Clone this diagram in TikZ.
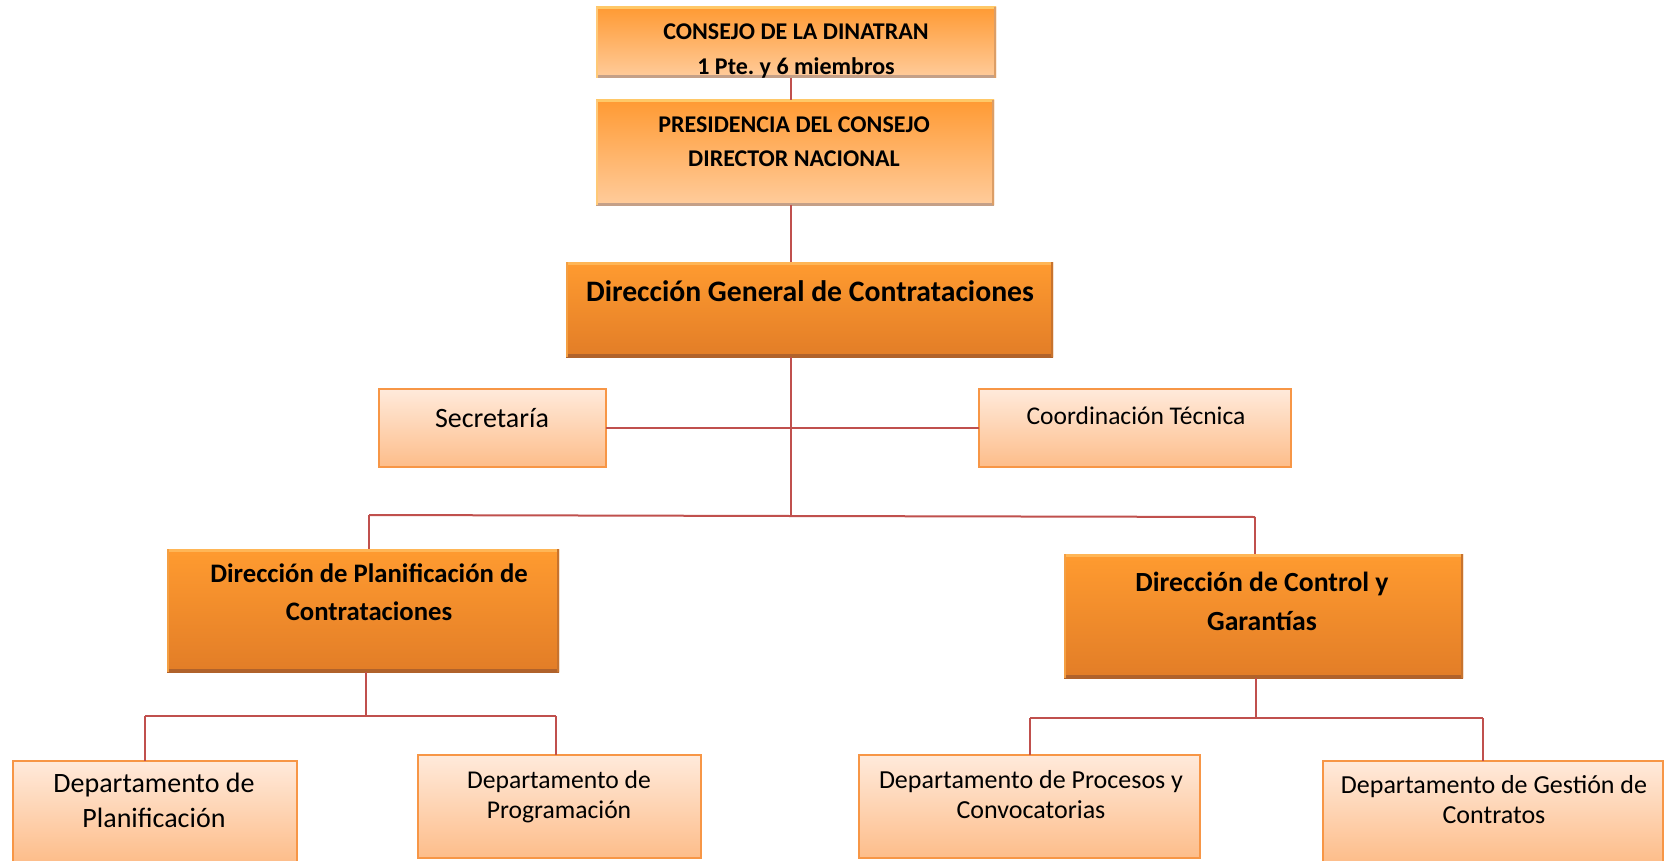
\documentclass[tikz,border=0pt]{standalone}
\usepackage{fontspec}
\setmainfont{Carlito}
\frenchspacing
\definecolor{lnk}{HTML}{C0504D}
\definecolor{orbord}{HTML}{F79646}
\definecolor{tTop}{HTML}{FF9A33}
\definecolor{tBot}{HTML}{FFCC9C}
\definecolor{tHi}{HTML}{FFC867}
\definecolor{tLo}{HTML}{C4A088}
\definecolor{dTop}{HTML}{FF9B30}
\definecolor{dBot}{HTML}{E27D27}
\definecolor{dHi}{HTML}{FFB656}
\definecolor{dLo}{HTML}{B0622B}
\definecolor{lTop}{HTML}{FFEADB}
\definecolor{lBot}{HTML}{FDBD8A}
\tikzset{
  boxbase/.style={rectangle, inner sep=0pt, outer sep=0pt, anchor=north west},
  topbox/.style={boxbase, top color=tTop, bottom color=tBot,
    path picture={
      \draw[tHi, line width=5pt] (path picture bounding box.north west) -- (path picture bounding box.north east);
      \draw[tLo, line width=5pt] (path picture bounding box.south west) -- (path picture bounding box.south east);
      \draw[tHi!70!tBot, line width=4pt] (path picture bounding box.north west) -- (path picture bounding box.south west);
      \draw[tLo!60!tTop, line width=4pt] (path picture bounding box.north east) -- (path picture bounding box.south east);
    }},
  darkbox/.style={boxbase, top color=dTop, bottom color=dBot,
    path picture={
      \draw[dHi, line width=5pt] (path picture bounding box.north west) -- (path picture bounding box.north east);
      \draw[dLo, line width=6pt] (path picture bounding box.south west) -- (path picture bounding box.south east);
      \draw[dHi!60!dBot, line width=4pt] (path picture bounding box.north west) -- (path picture bounding box.south west);
      \draw[dLo!70!dTop, line width=4pt] (path picture bounding box.north east) -- (path picture bounding box.south east);
    }},
  lightbox/.style={boxbase, top color=lTop, bottom color=lBot, draw=orbord, line width=2pt},
  txt/.style={anchor=base, inner sep=0pt, text=black},
  link/.style={draw=lnk, line width=2pt},
}
\newcommand{\fsz}[1]{\fontsize{#1}{#1}\selectfont}
\begin{document}
\begin{tikzpicture}[x=1pt,y=-1pt]
\useasboundingbox[fill=white] (0,0) rectangle (1664,861);

% boxes
\node[topbox, minimum width=400pt, minimum height=71pt] (cons) at (596,7) {};
\node[topbox, minimum width=398pt, minimum height=105pt] (pres) at (596,100) {};
\node[darkbox, minimum width=487pt, minimum height=95pt] (dg) at (566,262) {};
\node[lightbox, minimum width=227pt, minimum height=78pt] (sec) at (379,389) {};
\node[lightbox, minimum width=312pt, minimum height=78pt] (coord) at (979,389) {};
\node[darkbox, minimum width=392pt, minimum height=123pt] (dpc) at (167,549) {};
\node[darkbox, minimum width=399pt, minimum height=124pt] (dcg) at (1064,554) {};
\node[lightbox, minimum width=284pt, minimum height=101pt] (dplan) at (13,761) {};
\node[lightbox, minimum width=283pt, minimum height=103pt] (dprog) at (418,755) {};
\node[lightbox, minimum width=341pt, minimum height=103pt] (dproc) at (859,755) {};
\node[lightbox, minimum width=340pt, minimum height=101pt] (dgest) at (1323,761) {};

% texts
\node[txt, font=\fsz{24}\bfseries] (cons1) at (796,40) {CONSEJO DE LA DINATRAN};
\node[txt, font=\fsz{24}\bfseries] (cons2) at (796,74.5) {1 Pte. y 6 miembros};
\node[txt, font=\fsz{24}\bfseries] (pres1) at (794,133) {PRESIDENCIA DEL CONSEJO};
\node[txt, font=\fsz{24}\bfseries] (pres2) at (794,167) {DIRECTOR NACIONAL};
\node[txt, font=\fsz{29.7}\bfseries] (dgt) at (810,301.5) {Dirección General de Contrataciones};
\node[txt, font=\fsz{28}] (sect) at (492,427) {Secretaría};
\node[txt, font=\fsz{25.5}] (coordt) at (1136,424) {Coordinación Técnica};
\node[txt, font=\fsz{26.7}\bfseries] (dpc1) at (369,582.5) {Dirección de Planificación de};
\node[txt, font=\fsz{26.7}\bfseries] (dpc2) at (369,620.5) {Contrataciones};
\node[txt, font=\fsz{27.7}\bfseries] (dcg1) at (1262,591) {Dirección de Control y};
\node[txt, font=\fsz{27.7}\bfseries] (dcg2) at (1262,630) {Garantías};
\node[txt, font=\fsz{28}] (dplan1) at (154,792) {Departamento de};
\node[txt, font=\fsz{28}] (dplan2) at (154,827) {Planificación};
\node[txt, font=\fsz{25.6}] (dprog1) at (559,788) {Departamento de};
\node[txt, font=\fsz{25.6}] (dprog2) at (559,818) {Programación};
\node[txt, font=\fsz{26}] (dproc1) at (1031,788) {Departamento de Procesos y};
\node[txt, font=\fsz{26}] (dproc2) at (1031,818) {Convocatorias};
\node[txt, font=\fsz{26}] (dgest1) at (1494,793) {Departamento de Gestión de};
\node[txt, font=\fsz{26}] (dgest2) at (1494,823) {Contratos};

% connector coordinates
\coordinate (trunk) at (791,0);
\coordinate (busA) at (791,516);
\coordinate (busL) at (369,515);
\coordinate (busR) at (1255,517);
\coordinate (dpcDrop) at (366,0);
\coordinate (busPL) at (145,716);
\coordinate (busPM) at (366,716);
\coordinate (busPR) at (556,716);
\coordinate (dcgDrop) at (1256,0);
\coordinate (busCL) at (1030,718);
\coordinate (busCM) at (1256,718);
\coordinate (busCR) at (1483,718);

% connectors
\draw[link] (trunk |- cons.south) -- (trunk |- pres.north);
\draw[link] (trunk |- pres.south) -- (trunk |- dg.north);
\draw[link] (trunk |- dg.south) -- (busA);
\draw[link] (sec.east) -- (coord.west);
\draw[link] (busL) -- (busA) -- (busR);
\draw[link] (busL) -- (busL |- dpc.north);
\draw[link] (busR) -- (busR |- dcg.north);
\draw[link] (dpcDrop |- dpc.south) -- (busPM);
\draw[link] (busPL) -- (busPR);
\draw[link] (busPL) -- (busPL |- dplan.north);
\draw[link] (busPR) -- (busPR |- dprog.north);
\draw[link] (dcgDrop |- dcg.south) -- (busCM);
\draw[link] (busCL) -- (busCR);
\draw[link] (busCL) -- (busCL |- dproc.north);
\draw[link] (busCR) -- (busCR |- dgest.north);
\end{tikzpicture}
\end{document}
